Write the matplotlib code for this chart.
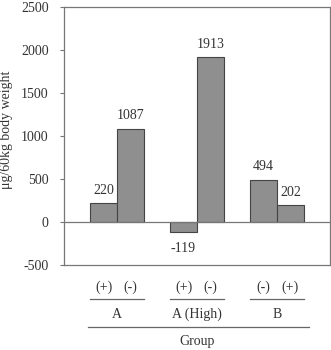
import matplotlib
matplotlib.use("Agg")
import matplotlib.pyplot as plt
import numpy as np

plt.rcParams['font.family'] = ['Liberation Serif', 'DejaVu Serif']

groups = ["A", "A (High)", "B"]
sub_labels = [["(+)", "(-)"], ["(+)", "(-)"], ["(-)", "(+)"]]
values = [[220, 1087], [-119, 1913], [494, 202]]
yticks = [-500, 0, 500, 1000, 1500, 2000, 2500]
ylabel = "μg/60kg body weight"
xlabel = "Group"

txt = '#333333'
fs = 10
fig = plt.figure(figsize=(3.31, 3.5), dpi=100)
ax = fig.add_axes([64/331, 1-265/350, 266/331, 258/350])

w = 0.3375
for gi, vals in enumerate(values):
    for j, v in enumerate(vals):
        x = gi + (j - 0.5) * w
        ax.bar(x, v, width=w, color='#8f8f8f', edgecolor='#444444', linewidth=0.8, zorder=2)
        if v >= 0:
            ax.text(x, v + 70, str(v), ha='center', va='bottom', fontsize=fs, color=txt)
        else:
            ax.text(x, v - 110, str(v), ha='center', va='top', fontsize=fs, color=txt)

ax.axhline(0, color='#777777', linewidth=0.9, zorder=3)
ax.set_xlim(-0.6625, 2.6625)
ax.set_ylim(-500, 2500)
ax.set_yticks(yticks)
ax.set_yticklabels([str(t) for t in yticks], fontsize=fs, color=txt)
ax.tick_params(axis='y', length=3, width=0.8, color='#777777', pad=8)
ax.set_xticks([])
for s in ax.spines.values():
    s.set_color('#777777')
    s.set_linewidth(0.9)

fig.text(7/331, 1 - 130/350, ylabel, rotation=90, ha='center', va='center', fontsize=fs, color=txt)

trans = ax.get_xaxis_transform()
def yfrac(py):
    return (265 - py) / 258.0

for gi, subs in enumerate(sub_labels):
    for j, s in enumerate(subs):
        x = gi + (j - 0.5) * w
        ax.text(x, yfrac(287), s, transform=trans, ha='center', va='center', fontsize=fs, color=txt, clip_on=False)
    ax.plot([gi - 0.34, gi + 0.34], [yfrac(299)]*2, transform=trans, color='#666666', linewidth=0.9, clip_on=False)
    ax.text(gi, yfrac(314), groups[gi], transform=trans, ha='center', va='center', fontsize=fs, color=txt, clip_on=False)

ax.plot([-0.36, 2.4], [yfrac(327)]*2, transform=trans, color='#666666', linewidth=0.9, clip_on=False)
ax.text(1, yfrac(342), xlabel, transform=trans, ha='center', va='center', fontsize=fs, color=txt, clip_on=False)

fig.savefig("out.png", dpi=100)
